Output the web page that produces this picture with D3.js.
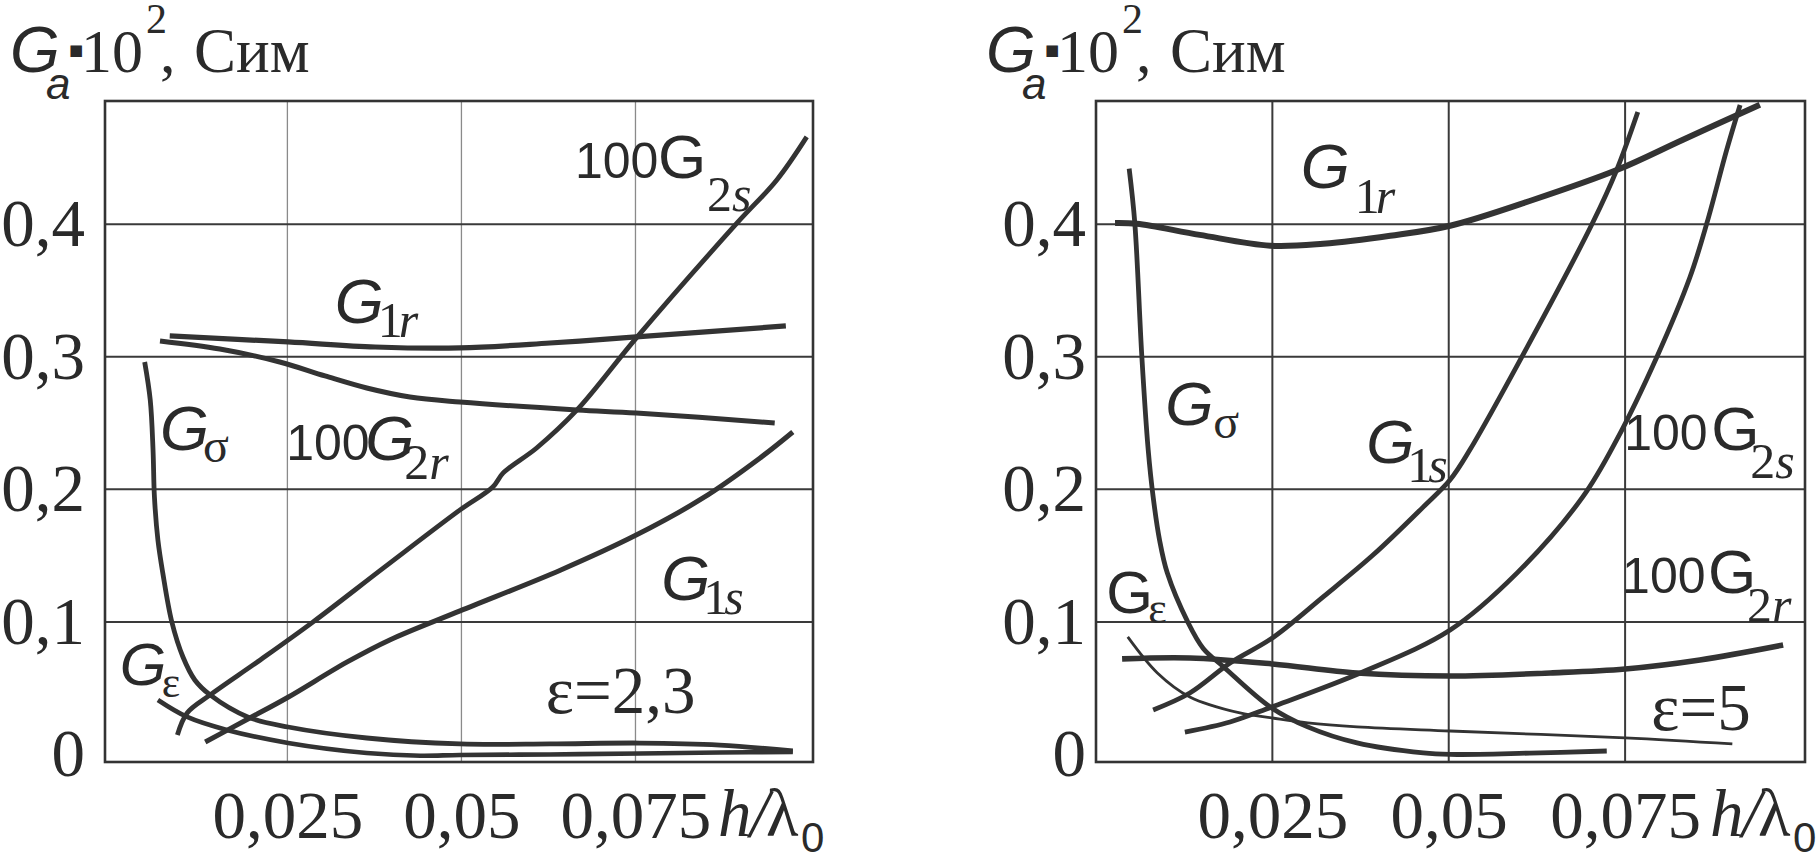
<!DOCTYPE html>
<html><head><meta charset="utf-8">
<script src="https://cdn.jsdelivr.net/npm/d3@7"></script>
<style>
html,body{margin:0;padding:0;background:#fff;}
svg{display:block;}
</style></head><body>
<svg id="chart" width="1820" height="853"></svg>
<script>
// ---------- tick values ----------
const xTickValues = [0.025, 0.05, 0.075];
const yTickValues = [0, 0.1, 0.2, 0.3, 0.4];

// ---------- panel 1 (ε = 2,3) : [h/λ0, Ga·10²] ----------
const p1_G1r = [[0.0081,0.3158],[0.0251,0.3112],[0.0376,0.3074],[0.0498,0.3067],[0.0627,0.3104],[0.0751,0.3150],[0.0966,0.3233]];
const p1_G2r = [[0.0067,0.3120],[0.0153,0.3059],[0.0239,0.2961],[0.0304,0.2856],[0.0364,0.2765],[0.0426,0.2697],[0.0498,0.2659],[0.0666,0.2599],[0.0751,0.2576],[0.0950,0.2501]];
const p1_G2s = [[0.0092,0.0147],[0.0106,0.0313],[0.0139,0.0449],[0.0211,0.0713],[0.0287,0.1000],[0.0390,0.1415],[0.0498,0.1845],[0.0545,0.2018],[0.0560,0.2124],[0.0608,0.2312],[0.0666,0.2599],[0.0751,0.3141],[0.0896,0.4010],[0.0953,0.4334],[0.0996,0.4659]];
const p1_G1s = [[0.0132,0.0094],[0.0196,0.0275],[0.0249,0.0426],[0.0336,0.0698],[0.0397,0.0864],[0.0498,0.1083],[0.0642,0.1390],[0.0751,0.1655],[0.0847,0.1935],[0.0929,0.2237],[0.0976,0.2433]];
const p1_Gsig = [[0.0045,0.2961],[0.0053,0.2674],[0.0057,0.2297],[0.0059,0.1943],[0.0064,0.1618],[0.0071,0.1369],[0.0084,0.0999],[0.0100,0.0735],[0.0117,0.0562],[0.0139,0.0449],[0.0193,0.0283],[0.0251,0.0207],[0.0364,0.0124],[0.0498,0.0079],[0.0627,0.0079],[0.0756,0.0086],[0.0871,0.0071],[0.0976,0.0026]];
const p1_Geps = [[0.0064,0.0411],[0.0106,0.0283],[0.0163,0.0185],[0.0251,0.0087],[0.0364,0.0011],[0.0441,-0.0010],[0.0498,-0.0004],[0.0627,0.0000],[0.0756,0.0007],[0.0871,0.0015],[0.0976,0.0018]];

// ---------- panel 2 (ε = 5) ----------
const p2_G1r = [[0.0027,0.4010],[0.0058,0.4004],[0.0147,0.3920],[0.0247,0.3838],[0.0322,0.3853],[0.0417,0.3913],[0.0502,0.3989],[0.0620,0.4185],[0.0739,0.4411],[0.0832,0.4638],[0.0941,0.4902]];
const p2_Gsig = [[0.0047,0.4420],[0.0055,0.4010],[0.0065,0.3000],[0.0074,0.2298],[0.0081,0.1943],[0.0090,0.1620],[0.0101,0.1370],[0.0130,0.1000],[0.0152,0.0800],[0.0181,0.0660],[0.0247,0.0358],[0.0300,0.0208],[0.0370,0.0087],[0.0464,0.0011],[0.0502,0.0000],[0.0615,0.0010],[0.0724,0.0026]];
const p2_Geps = [[0.0045,0.0887],[0.0087,0.0615],[0.0133,0.0434],[0.0204,0.0313],[0.0250,0.0275],[0.0300,0.0238],[0.0370,0.0208],[0.0502,0.0177],[0.0750,0.0125],[0.0902,0.0079]];
const p2_G2r = [[0.0037,0.0721],[0.0133,0.0728],[0.0250,0.0683],[0.0370,0.0615],[0.0502,0.0592],[0.0644,0.0615],[0.0750,0.0645],[0.0856,0.0713],[0.0974,0.0826]];
const p2_G1s = [[0.0081,0.0336],[0.0133,0.0464],[0.0190,0.0690],[0.0250,0.0879],[0.0322,0.1189],[0.0393,0.1506],[0.0464,0.1868],[0.0502,0.2072],[0.0530,0.2298],[0.0619,0.3150],[0.0704,0.4011],[0.0738,0.4409],[0.0768,0.4847]];
const p2_G2s = [[0.0126,0.0169],[0.0190,0.0245],[0.0249,0.0358],[0.0378,0.0622],[0.0502,0.0939],[0.0597,0.1370],[0.0690,0.1943],[0.0738,0.2373],[0.0795,0.2999],[0.0842,0.3602],[0.0866,0.4010],[0.0894,0.4561],[0.0913,0.4900]];

// ---------- styles / layout ----------
const INK = "#333";
const TXT = "#2a2a2a";
const SANS = "'Liberation Sans', Arial, sans-serif";
const SERIF = "'Liberation Serif', 'Times New Roman', serif";

const panels = [
  { xDomain:[-0.0012,0.1005], xRange:[105,813], yDomain:[-0.0057,0.493], yRange:[762,101],
    vGrid:{color:"#8a8a8a", w:1.3}, hGrid:{color:"#3a3a3a", w:2},
    yLabelPad:20, titleX:10, hLabelX:718,
    series:[
      {d:p1_G1r, w:5.2}, {d:p1_G2r, w:5}, {d:p1_G2s, w:4.8}, {d:p1_G1s, w:5},
      {d:p1_Gsig, w:4.8}, {d:p1_Geps, w:4.6}
    ],
    labels:[
      {at:[0.0663,0.4350], parts:[{t:"100",f:SANS,s:50,dx:0,dy:0},{t:"G",f:SANS,s:62,dx:83,dy:0},{t:"2",f:SERIF,s:50,dx:132,dy:33},{t:"s",f:SERIF,s:50,i:1,dx:157,dy:33}]},
      {at:[0.0321,0.3255], parts:[{t:"G",f:SANS,s:63,i:1,dx:-2,dy:0},{t:"1",f:SERIF,s:50,dx:41,dy:14},{t:"r",f:SERIF,s:50,i:1,dx:62,dy:14}]},
      {at:[0.0070,0.2297], parts:[{t:"G",f:SANS,s:63,i:1,dx:-2,dy:0},{t:"σ",f:SERIF,s:48,dx:41,dy:12}]},
      {at:[0.0254,0.2222], parts:[{t:"100",f:SANS,s:50,dx:-4,dy:0},{t:"G",f:SANS,s:63,i:1,dx:75,dy:0},{t:"2",f:SERIF,s:50,dx:114,dy:19},{t:"r",f:SERIF,s:50,i:1,dx:139,dy:19}]},
      {at:[0.0790,0.1165], parts:[{t:"G",f:SANS,s:63,i:1,dx:-2,dy:0},{t:"1",f:SERIF,s:50,dx:40,dy:14},{t:"s",f:SERIF,s:50,i:1,dx:61,dy:14}]},
      {at:[0.0012,0.0524], parts:[{t:"G",f:SANS,s:60,i:1,dx:-2,dy:0},{t:"ε",f:SERIF,s:44,dx:40,dy:12}]},
      {at:[0.0624,0.0313], parts:[{t:"ε=2,3",f:SERIF,s:67,dx:-2,dy:0}]}
    ]},
  { xDomain:[0,0.1005], xRange:[1096,1805], yDomain:[-0.0057,0.493], yRange:[762,101],
    vGrid:{color:"#3a3a3a", w:2}, hGrid:{color:"#3a3a3a", w:2},
    yLabelPad:10, titleX:986, hLabelX:1710,
    series:[
      {d:p2_G1r, w:6}, {d:p2_Gsig, w:4.8}, {d:p2_Geps, w:2.8}, {d:p2_G2r, w:5.6},
      {d:p2_G1s, w:4.8}, {d:p2_G2s, w:4.8}
    ],
    labels:[
      {at:[0.0293,0.4274], parts:[{t:"G",f:SANS,s:63,i:1,dx:-2,dy:0},{t:"1",f:SERIF,s:50,dx:52,dy:25},{t:"r",f:SERIF,s:50,i:1,dx:73,dy:25}]},
      {at:[0.0101,0.2486], parts:[{t:"G",f:SANS,s:62,i:1,dx:-2,dy:0},{t:"σ",f:SERIF,s:48,dx:46,dy:13}]},
      {at:[0.0386,0.2199], parts:[{t:"G",f:SANS,s:62,i:1,dx:-2,dy:0},{t:"1",f:SERIF,s:50,dx:39,dy:19},{t:"s",f:SERIF,s:50,i:1,dx:60,dy:19}]},
      {at:[0.0753,0.2297], parts:[{t:"100",f:SANS,s:50,dx:-3,dy:0},{t:"G",f:SANS,s:62,dx:84,dy:0},{t:"2",f:SERIF,s:50,dx:123,dy:28},{t:"s",f:SERIF,s:50,i:1,dx:148,dy:28}]},
      {at:[0.0750,0.1218], parts:[{t:"100",f:SANS,s:50,dx:-3,dy:0},{t:"G",f:SANS,s:62,dx:83,dy:0},{t:"2",f:SERIF,s:50,dx:122,dy:29},{t:"r",f:SERIF,s:50,i:1,dx:147,dy:29}]},
      {at:[0.0016,0.1067], parts:[{t:"G",f:SANS,s:60,dx:-1,dy:0},{t:"ε",f:SERIF,s:44,dx:41,dy:10}]},
      {at:[0.0790,0.0185], parts:[{t:"ε=5",f:SERIF,s:67,dx:-2,dy:0}]}
    ]}
];

const svg = d3.select("#chart");
svg.append("rect").attr("width",1820).attr("height",853).attr("fill","#fff");

function drawParts(g, x0, y0, parts){
  const t = g.append("text").attr("fill", TXT);
  parts.forEach(p => {
    t.append("tspan")
      .attr("x", x0 + p.dx).attr("y", y0 + p.dy)
      .attr("font-family", p.f).attr("font-size", p.s)
      .attr("font-style", p.i ? "italic" : "normal")
      .attr("font-weight", p.b ? "bold" : "normal")
      .text(p.t);
  });
  return t;
}

const commaFmt = d => d === 0 ? "0" : String(d).replace(".", ",");

panels.forEach(P => {
  const x = d3.scaleLinear().domain(P.xDomain).range(P.xRange);
  const y = d3.scaleLinear().domain(P.yDomain).range(P.yRange);
  const g = svg.append("g");
  const [xl, xr] = P.xRange, [yb, yt] = P.yRange;

  // grid
  g.selectAll(".vg").data(xTickValues).join("line")
    .attr("x1", d=>x(d)).attr("x2", d=>x(d)).attr("y1", yb).attr("y2", yt)
    .attr("stroke", P.vGrid.color).attr("stroke-width", P.vGrid.w);
  g.selectAll(".hg").data(yTickValues.filter(v=>v>0)).join("line")
    .attr("x1", xl).attr("x2", xr).attr("y1", d=>y(d)).attr("y2", d=>y(d))
    .attr("stroke", P.hGrid.color).attr("stroke-width", P.hGrid.w);

  // frame
  g.append("rect").attr("x", xl).attr("y", yt).attr("width", xr-xl).attr("height", yb-yt)
    .attr("fill","none").attr("stroke", INK).attr("stroke-width", 2.6);

  // axes (labels only)
  const ax = g.append("g").attr("transform", `translate(${xl},0)`)
    .call(d3.axisLeft(y).tickValues(yTickValues).tickSize(0).tickPadding(P.yLabelPad).tickFormat(commaFmt));
  ax.select(".domain").remove();
  ax.selectAll("text").attr("font-family", SERIF).attr("font-size", 67).attr("fill", TXT)
    .attr("dy", "0.32em");

  const bx = g.append("g").attr("transform", `translate(0,${yb})`)
    .call(d3.axisBottom(x).tickValues(xTickValues).tickSize(0).tickFormat(commaFmt));
  bx.select(".domain").remove();
  bx.selectAll("text").attr("font-family", SERIF).attr("font-size", 67).attr("fill", TXT)
    .attr("y", 76).attr("dy", null);

  // h/λ0
  drawParts(g, P.hLabelX, 836, [
    {t:"h",f:SERIF,s:67,i:1,dx:0,dy:0},
    {t:"/",f:SERIF,s:67,i:1,dx:32,dy:0},
    {t:"λ",f:SERIF,s:67,dx:48,dy:0},
    {t:"0",f:SANS,s:42,dx:83,dy:16}
  ]);

  // title
  drawParts(g, P.titleX, 72, [
    {t:"G",f:SANS,s:64,i:1,dx:0,dy:0},
    {t:"a",f:SANS,s:44,i:1,dx:36,dy:27},
    {t:"■",f:"'DejaVu Sans', sans-serif",s:15,dx:59,dy:-17},
    {t:"10",f:SERIF,s:62,dx:71,dy:0},
    {t:"2",f:SERIF,s:42,dx:136,dy:-39},
    {t:",",f:SERIF,s:62,dx:150,dy:0},
    {t:"Сим",f:SERIF,s:63,dx:184,dy:0}
  ]);

  // curves
  const line = d3.line().x(d=>x(d[0])).y(d=>y(d[1])).curve(d3.curveCatmullRom.alpha(0.5));
  g.selectAll(".curve").data(P.series).join("path")
    .attr("d", s=>line(s.d)).attr("fill","none").attr("stroke", INK)
    .attr("stroke-width", s=>s.w).attr("stroke-linejoin","round");

  // curve labels
  P.labels.forEach(L => drawParts(g, x(L.at[0]), y(L.at[1]), L.parts));
});
</script>
</body></html>
